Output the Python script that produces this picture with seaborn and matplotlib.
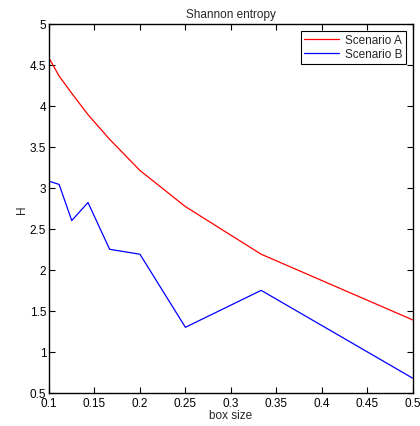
import matplotlib
matplotlib.use("Agg")
import matplotlib.pyplot as plt
import seaborn as sns
import pandas as pd
from matplotlib.ticker import FuncFormatter

box_size = [1/10, 1/9, 1/8, 1/7, 1/6, 1/5, 1/4, 1/3, 1/2]
scenario_a = [4.58, 4.36, 4.15, 3.89, 3.59, 3.21, 2.77, 2.19, 1.39]
scenario_b = [3.08, 3.04, 2.60, 2.82, 2.25, 2.19, 1.30, 1.75, 0.68]
series_names = ["Scenario A", "Scenario B"]
x_ticks = [0.1, 0.15, 0.2, 0.25, 0.3, 0.35, 0.4, 0.45, 0.5]
y_ticks = [0.5, 1, 1.5, 2, 2.5, 3, 3.5, 4, 4.5, 5]

df = pd.DataFrame({
    "box size": box_size * 2,
    "H": scenario_a + scenario_b,
    "series": [series_names[0]] * len(box_size) + [series_names[1]] * len(box_size),
})

sns.set_theme(style="white")
plt.rcParams["font.family"] = ["Liberation Sans", "DejaVu Sans"]
FS = 8.5

fig = plt.figure(figsize=(4.2, 4.27), dpi=100)
ax = fig.add_axes([0.1167, 0.0773, 0.866, 0.8653])
sns.lineplot(data=df, x="box size", y="H", hue="series",
             palette={"Scenario A": "#ff0000", "Scenario B": "#0000ff"},
             linewidth=0.9, ax=ax, sort=False, estimator=None)

ax.set_xlim(0.1, 0.5)
ax.set_ylim(0.5, 5)
ax.set_xticks(x_ticks)
ax.set_yticks(y_ticks)
fmt = FuncFormatter(lambda v, p: f"{v:g}")
ax.xaxis.set_major_formatter(fmt)
ax.yaxis.set_major_formatter(fmt)
ax.tick_params(direction="in", length=4, width=0.8, colors="black",
               labelsize=FS, top=True, right=True, bottom=True, left=True, pad=2)
ax.tick_params(axis="x", pad=3)
for s in ax.spines.values():
    s.set_color("black")
    s.set_linewidth(1.0)
ax.set_xlabel("box size", fontsize=FS, labelpad=0)
ax.set_ylabel("H", fontsize=FS, labelpad=1)
ax.set_title("Shannon entropy", fontsize=FS, pad=5)

leg = ax.legend(loc="upper right", fontsize=FS, frameon=True, fancybox=False,
                edgecolor="black", framealpha=1, borderpad=0.3, handlelength=2.9,
                labelspacing=0.2, borderaxespad=0.6, handletextpad=0.5)
leg.get_frame().set_linewidth(0.8)

fig.savefig("out.png", dpi=100)
